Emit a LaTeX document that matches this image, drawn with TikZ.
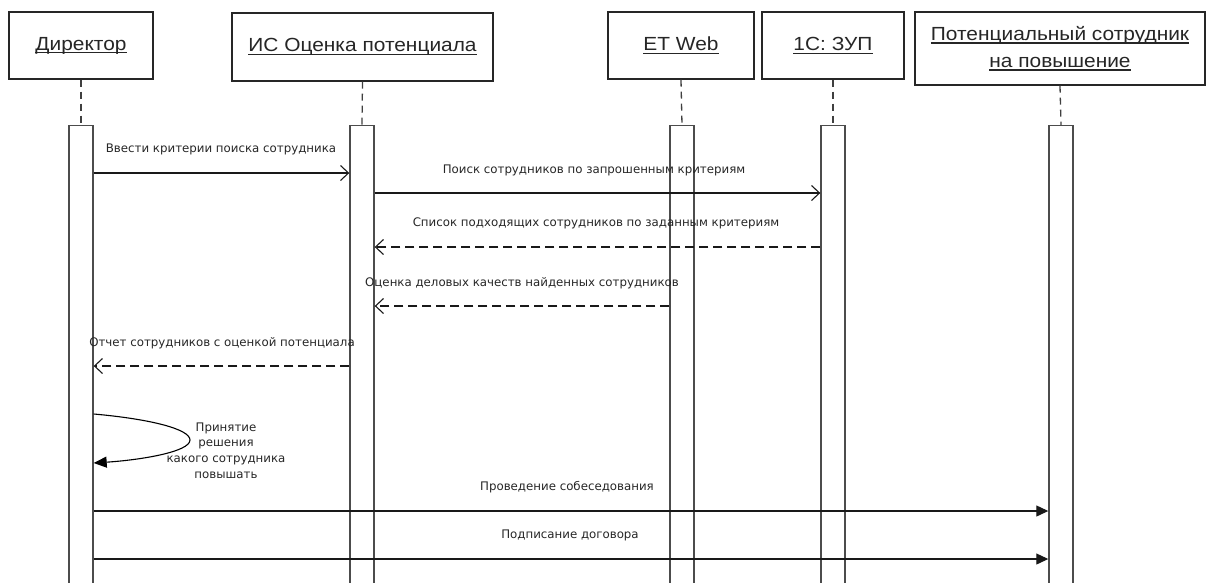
\documentclass[tikz,border=0pt]{standalone}
\usepackage{fontspec}
\setmainfont{Liberation Sans}
\newfontfamily\headfont[FakeStretch=1.1]{Liberation Sans}
\newfontfamily\msgfont{DejaVu Sans}
\usetikzlibrary{arrows.meta}
% underline drawn just below the baseline of a header title
\newcommand\hdline[1]{\setbox0\hbox{#1}\rlap{\rule[-3pt]{\wd0}{1.1pt}}\box0}

\begin{document}
\begin{tikzpicture}[x=1pt,y=-1pt,
  actor/.style={draw=black!85, line width=1.2pt, fill=white, inner sep=0pt,
    align=center, text=black!85, font=\headfont\fontsize{19}{27}\selectfont},
  bar/.style={draw=black!70, line width=1.4pt, fill=white, minimum width=24pt,
    minimum height=480pt, inner sep=0pt, anchor=north},
  life/.style={draw=black!75, line width=1.3pt, dash pattern=on 7pt off 5pt},
  call/.style={draw=black!90, line width=1.1pt, -{Straight Barb[length=8pt,width=15pt]}},
  reply/.style={call, dash pattern=on 9pt off 5pt},
  sync/.style={draw=black!90, line width=1.1pt, -{Triangle[length=12pt,width=11pt]}},
  lbl/.style={font=\msgfont\fontsize{11.8}{15.7}\selectfont, text=black!85,
    inner sep=0pt, align=center}
]
\useasboundingbox (0,0) rectangle (1211,582);

% participants
\node[actor, minimum width=144pt, minimum height=67pt] (dir)  at (81,45.5)   {\hdline{Директор}};
\node[actor, minimum width=261pt, minimum height=68pt] (isys) at (362.5,47)  {\hdline{ИС Оценка потенциала}};
\node[actor, minimum width=146pt, minimum height=67pt] (etw)  at (681,45.5)  {\hdline{ET Web}};
\node[actor, minimum width=142pt, minimum height=67pt] (zup)  at (833,45.5)  {\hdline{1С: ЗУП}};
\node[actor, minimum width=290pt, minimum height=73pt] (cand) at (1060,48.5) {\hdline{Потенциальный сотрудник}\\\hdline{на повышение}};

% activation bars
\node[bar] (dA)  at (81,125)   {};
\node[bar] (isA) at (362,125)  {};
\node[bar] (etA) at (682,125)  {};
\node[bar] (zA)  at (833,125)  {};
\node[bar] (pA)  at (1061,125) {};

% lifelines
\draw[life] (dir.south)  -- (dA.north);
\draw[life] (isys.south) -- (isA.north);
\draw[life] (etw.south)  -- (etA.north);
\draw[life] (zup.south)  -- (zA.north);
\draw[life] (cand.south) -- (pA.north);

% messages
\draw[call]  (dA.east |- 0,173)  -- (isA.west |- 0,173);
\node[lbl] (l1) at (221,149) {Ввести критерии поиска сотрудника};

\draw[call]  (isA.east |- 0,193) -- (zA.west |- 0,193);
\node[lbl] (l2) at (594,170) {Поиск сотрудников по запрошенным критериям};

\draw[reply] (zA.west |- 0,247)  -- (isA.east |- 0,247);
\node[lbl] (l3) at (596,223) {Список подходящих сотрудников по заданным критериям};

\draw[reply] (etA.west |- 0,306) -- (isA.east |- 0,306);
\node[lbl] (l4) at (522,283) {Оценка деловых качеств найденных сотрудников};

\draw[reply] (isA.west |- 0,366) -- (dA.east |- 0,366);
\node[lbl] (l5) at (222,343) {Отчет сотрудников с оценкой потенциала};

% self call of the director
\draw[draw=black, line width=1.1pt, -{Triangle[length=13pt,width=11pt]}]
  (dA.east |- 0,414) .. controls (150,419) and (190,429) .. (190,440)
  .. controls (190,452) and (140,460) .. (dA.east |- 0,463);
\node[lbl] (l6) at (226,450.5) {Принятие\\решения\\какого сотрудника\\повышать};

\draw[sync]  (dA.east |- 0,511) -- (pA.west |- 0,511);
\node[lbl] (l7) at (567,487) {Проведение собеседования};

\draw[sync]  (dA.east |- 0,559) -- (pA.west |- 0,559);
\node[lbl] (l8) at (570,535) {Подписание договора};
\end{tikzpicture}
\end{document}
